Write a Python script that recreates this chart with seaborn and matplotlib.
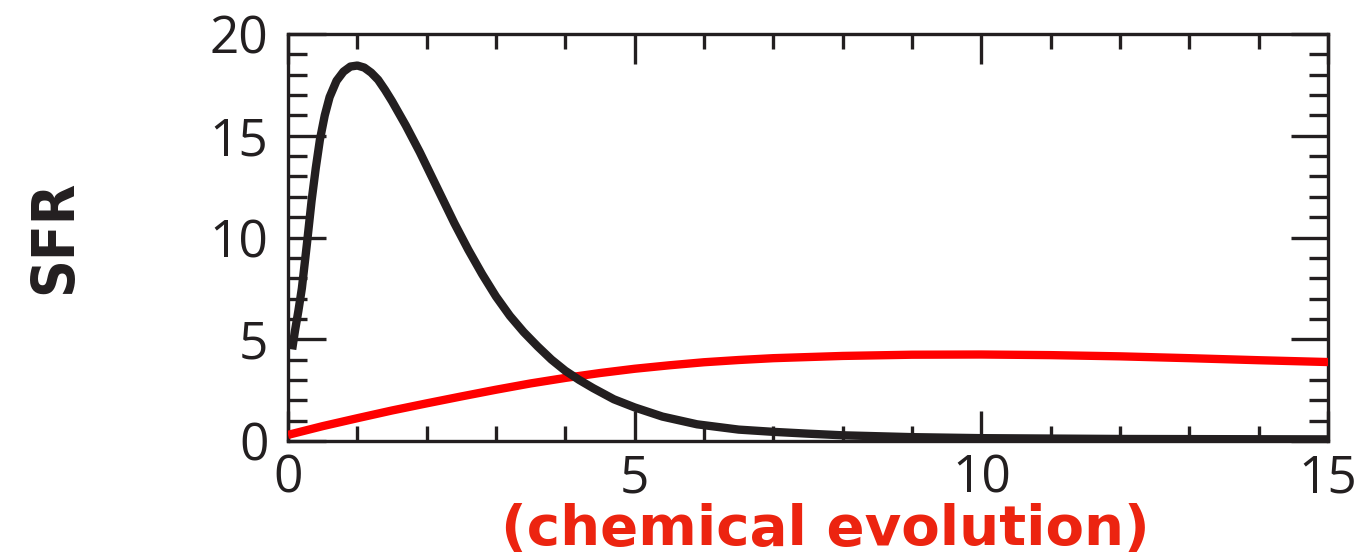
import matplotlib
matplotlib.use("Agg")
import matplotlib.pyplot as plt
from matplotlib.ticker import MultipleLocator
import pandas as pd
import seaborn as sns

# Star formation rate vs time (Gyr): early burst
burst_time = [0.06, 0.10, 0.15, 0.20, 0.27, 0.34, 0.40, 0.46, 0.53, 0.60,
              0.70, 0.80, 0.90, 1.00, 1.10, 1.20, 1.30, 1.40, 1.50, 1.60,
              1.70, 1.80, 1.90, 2.00, 2.20, 2.40, 2.60, 2.80, 3.00, 3.20,
              3.40, 3.60, 3.80, 4.00, 4.20, 4.40, 4.70, 5.00, 5.40, 5.90,
              6.50, 7.00, 7.50, 8.00, 9.00, 10.0, 12.0, 15.0]
burst_sfr = [4.5, 5.4, 6.4, 7.5, 9.6, 11.8, 13.4, 14.8, 16.0, 16.9,
             17.7, 18.15, 18.4, 18.45, 18.35, 18.1, 17.75, 17.25, 16.7, 16.1,
             15.5, 14.85, 14.2, 13.5, 12.1, 10.7, 9.4, 8.2, 7.1, 6.15,
             5.35, 4.65, 4.0, 3.45, 3.0, 2.6, 2.05, 1.65, 1.2, 0.82,
             0.56, 0.45, 0.36, 0.28, 0.19, 0.14, 0.1, 0.08]

# Slow, extended star formation
slow_time = [0.0, 0.5, 1.0, 1.5, 2.0, 2.5, 3.0, 3.5, 4.0, 4.5,
             5.0, 5.5, 6.0, 6.5, 7.0, 8.0, 9.0, 10.0, 11.0, 12.0,
             13.0, 14.0, 15.0]
slow_sfr = [0.3, 0.73, 1.12, 1.5, 1.85, 2.19, 2.52, 2.83, 3.1, 3.34,
            3.55, 3.72, 3.87, 3.98, 4.07, 4.18, 4.24, 4.25, 4.22, 4.16,
            4.07, 3.97, 3.88]

x_ticks = [0, 5, 10, 15]
y_ticks = [0, 5, 10, 15, 20]
y_label = "SFR"
x_caption = "(chemical evolution)"

ink = "#231f20"

sns.set_theme(style="white")
plt.rcParams["font.family"] = ["Open Sans", "DejaVu Sans"]

fig = plt.figure(figsize=(13.68, 5.57), dpi=100)
ax = fig.add_axes([288 / 1368, 1 - 441 / 557, 1040 / 1368, 407 / 557])

burst = pd.DataFrame({"t": burst_time, "sfr": burst_sfr})
slow = pd.DataFrame({"t": slow_time, "sfr": slow_sfr})

sns.lineplot(data=slow, x="t", y="sfr", ax=ax, color="#ff0000",
             linewidth=6, solid_capstyle="butt", solid_joinstyle="round",
             zorder=3)
sns.lineplot(data=burst, x="t", y="sfr", ax=ax, color=ink,
             linewidth=6, solid_capstyle="butt", solid_joinstyle="round",
             zorder=4)

ax.set_xlim(0, 15)
ax.set_ylim(0, 20)
ax.set_xticks(x_ticks)
ax.set_yticks(y_ticks)
ax.set_xticklabels([str(v) for v in x_ticks])
ax.set_yticklabels([str(v) for v in y_ticks])
ax.xaxis.set_minor_locator(MultipleLocator(1))
ax.yaxis.set_minor_locator(MultipleLocator(1))

for side in ax.spines.values():
    side.set_visible(True)
    side.set_color(ink)
    side.set_linewidth(2.4)

ax.tick_params(which="both", direction="in", top=True, right=True,
               bottom=True, left=True, color=ink, width=2.4,
               labelsize=37, labelcolor=ink)
ax.tick_params(axis="x", which="major", length=21.5, pad=9)
ax.tick_params(axis="x", which="minor", length=11)
ax.tick_params(axis="y", which="major", length=27, pad=14)
ax.tick_params(axis="y", which="minor", length=14)

ax.set_xlabel("")
ax.set_ylabel("")

fig.text(55 / 1368, 1 - 237 / 557, y_label, rotation=90, ha="center",
         va="center", fontsize=42, fontweight="bold", color=ink,
         family=["DejaVu Sans"], fontstretch="condensed")
fig.text(825 / 1368, 1 - 530 / 557, x_caption, ha="center", va="center",
         fontsize=40.5, fontweight="bold", color="#ec2410",
         family=["DejaVu Sans"])

fig.savefig("out.png", dpi=100)
